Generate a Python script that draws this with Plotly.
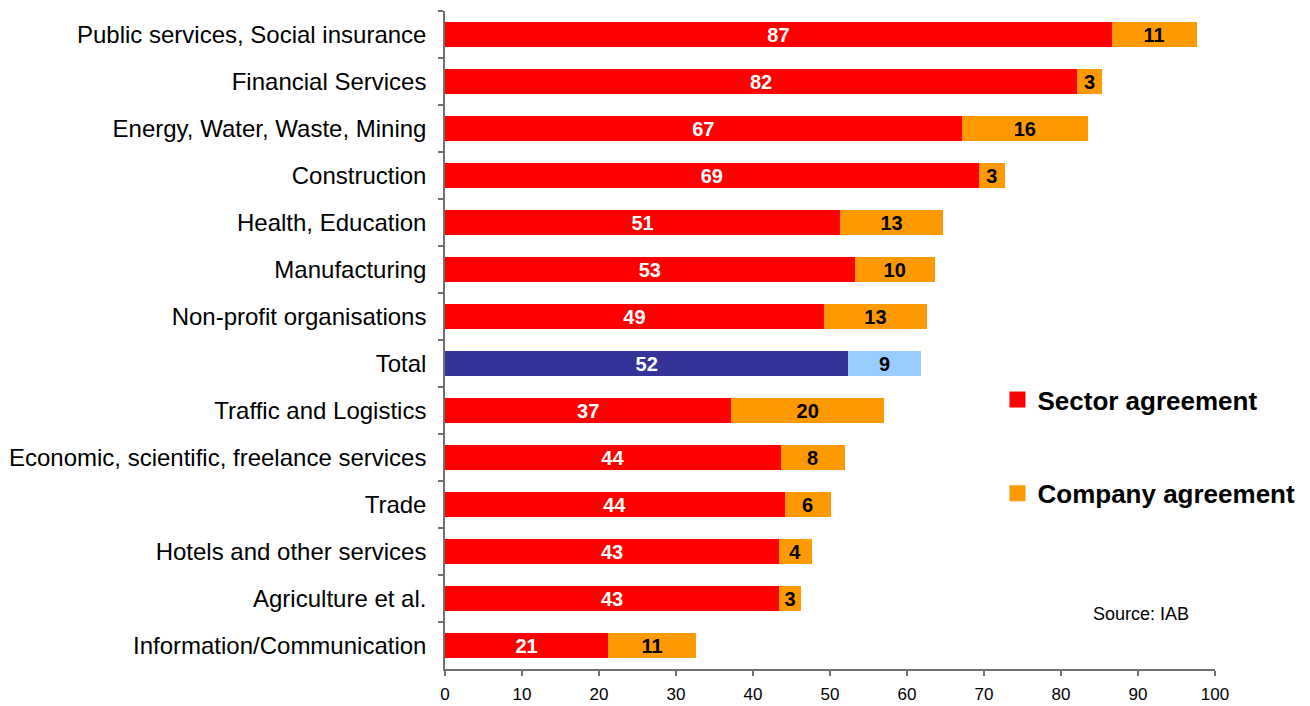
import plotly.graph_objects as go

categories = [
    "Public services, Social insurance",
    "Financial Services",
    "Energy, Water, Waste, Mining",
    "Construction",
    "Health, Education",
    "Manufacturing",
    "Non-profit organisations",
    "Total",
    "Traffic and Logistics",
    "Economic, scientific, freelance services",
    "Trade",
    "Hotels and other services",
    "Agriculture et al.",
    "Information/Communication",
]
sector = [86.6, 82.1, 67.1, 69.3, 51.3, 53.2, 49.2, 52.4, 37.2, 43.6, 44.1, 43.4, 43.4, 21.2]
company = [11.0, 3.2, 16.4, 3.4, 13.4, 10.4, 13.4, 9.4, 19.8, 8.3, 6.0, 4.2, 2.8, 11.4]
x_ticks = [0, 10, 20, 30, 40, 50, 60, 70, 80, 90, 100]

RED = "#FF0000"
ORANGE = "#FF9900"
NAVY = "#333399"
LIGHTBLUE = "#99CCFF"
FONT = "Liberation Sans, Arial, sans-serif"
AXIS = "#707070"

sector_colors = [NAVY if c == "Total" else RED for c in categories]
company_colors = [LIGHTBLUE if c == "Total" else ORANGE for c in categories]

fig = go.Figure()
fig.add_trace(go.Bar(
    y=categories, x=sector, orientation="h", name="Sector agreement",
    marker=dict(color=sector_colors, line=dict(width=0)),
    texttemplate="%{x:.0f}", textposition="inside", insidetextanchor="middle",
    textangle=0, constraintext="none",
    textfont=dict(family=FONT, size=20, color="white", weight="bold"),
    showlegend=False, hoverinfo="x+y",
))
fig.add_trace(go.Bar(
    y=categories, x=company, orientation="h", name="Company agreement",
    marker=dict(color=company_colors, line=dict(width=0)),
    texttemplate="%{x:.0f}", textposition="inside", insidetextanchor="middle",
    textangle=0, constraintext="none",
    textfont=dict(family=FONT, size=20, color="black", weight="bold"),
    showlegend=False, hoverinfo="x+y",
))
# legend entries with larger square swatches
fig.add_trace(go.Scatter(
    x=[None], y=[None], mode="markers", name="Sector agreement",
    marker=dict(symbol="square", size=17, color=RED), legendgroup="a",
))
fig.add_trace(go.Scatter(
    x=[None], y=[None], mode="markers", name="Company agreement",
    marker=dict(symbol="square", size=17, color=ORANGE), legendgroup="b",
))

fig.update_layout(
    width=1302, height=698,
    barmode="stack", bargap=0.468,
    margin=dict(l=437, r=95, t=3, b=37, autoexpand=False),
    plot_bgcolor="white", paper_bgcolor="white",
    font=dict(family=FONT, color="black"),
    showlegend=True,
    legend=dict(
        x=0.7175, y=0.4453, xanchor="left", yanchor="top",
        font=dict(family=FONT, size=26, color="black", weight="bold"),
        tracegroupgap=57, bgcolor="rgba(0,0,0,0)",
    ),
    annotations=[dict(
        text="Source: IAB", x=0.904, y=0.0836, xref="paper", yref="paper",
        xanchor="center", yanchor="middle", showarrow=False,
        font=dict(family=FONT, size=18, color="black"),
    )],
)
fig.update_xaxes(
    range=[0, 100], tickvals=x_ticks, showgrid=False, zeroline=False,
    showline=True, linecolor=AXIS, linewidth=1.5,
    ticks="outside", ticklen=5, tickcolor=AXIS, tickwidth=1.5,
    ticklabelstandoff=4,
    tickfont=dict(family=FONT, size=17, color="black"), automargin=False,
)
fig.update_yaxes(
    categoryorder="array", categoryarray=categories, autorange="reversed",
    showgrid=False, zeroline=False,
    showline=True, linecolor=AXIS, linewidth=1.5,
    ticks="outside", ticklen=5, tickcolor=AXIS, tickwidth=1.5,
    tickson="boundaries", ticklabelstandoff=12,
    tickfont=dict(family=FONT, size=24, color="black"), automargin=False,
)

fig.write_html("out.html")
